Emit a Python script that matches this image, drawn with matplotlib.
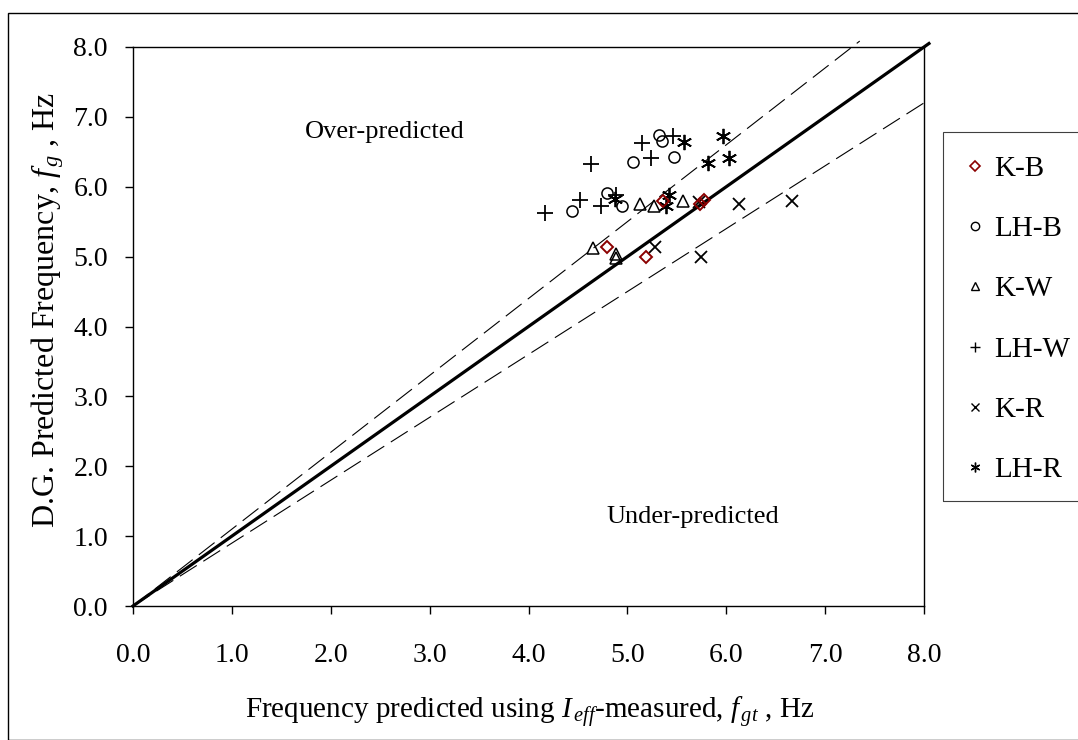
import numpy as np
import matplotlib
matplotlib.use("Agg")
import matplotlib.pyplot as plt
from matplotlib.patches import Rectangle
from matplotlib.lines import Line2D

plt.rcParams['font.family'] = ['Liberation Serif', 'DejaVu Serif']
plt.rcParams['mathtext.fontset'] = 'custom'
plt.rcParams['mathtext.rm'] = 'Liberation Serif'
plt.rcParams['mathtext.it'] = 'Liberation Serif:italic'

# データ
kb_x = [4.79, 5.19, 5.36, 5.73, 5.77]
kb_y = [5.14, 5.00, 5.80, 5.76, 5.81]

lhb_x = [5.32, 5.35, 5.06, 5.47, 4.79, 4.95, 4.44]
lhb_y = [6.74, 6.65, 6.35, 6.43, 5.91, 5.72, 5.65]

kw_x = [4.65, 4.89, 4.89, 5.13, 5.27, 5.56]
kw_y = [5.13, 5.04, 4.98, 5.76, 5.73, 5.79]

lhw_x = [5.15, 5.46, 4.63, 5.24, 4.52, 4.17, 4.73, 4.88]
lhw_y = [6.63, 6.72, 6.33, 6.41, 5.81, 5.63, 5.72, 5.88]

kr_x = [5.28, 5.74, 5.72, 6.13, 6.66]
kr_y = [5.14, 5.00, 5.78, 5.75, 5.80]

lhr_x = [5.57, 5.97, 6.03, 5.82, 5.42, 5.39, 4.87]
lhr_y = [6.64, 6.72, 6.41, 6.34, 5.88, 5.72, 5.83]

# 基準線 (1:1 と ±10%)
line_x = [0.0, 8.05]
upper_x = [0.0, 7.35]
lower_x = [0.0, 8.0]

fig = plt.figure(figsize=(10.78, 7.40), dpi=100)
W, H = 1078.0, 740.0

# 外枠
fig.patches.append(Rectangle((8 / W, 0), 1.1, 1 - 13 / H, transform=fig.transFigure,
                             fill=False, edgecolor='black', lw=1.0, clip_on=False))

ax = fig.add_axes([133 / W, 1 - 606 / H, (924 - 133) / W, (606 - 47) / H])

ax.plot(line_x, line_x, color='black', lw=2.3, clip_on=False, zorder=3)
ax.plot(upper_x, [1.1 * v for v in upper_x], color='black', lw=0.8,
        linestyle=(0, (18, 7)), clip_on=False)
ax.plot(lower_x, [0.9 * v for v in lower_x], color='black', lw=0.8,
        linestyle=(0, (18, 7)))

ms = 8
mew = 1.1
ax.plot(kb_x, kb_y, 'D', ms=ms - 1.5, mfc='none', mec='#8b0000', mew=mew + 0.3, zorder=5)
ax.plot(lhb_x, lhb_y, 'o', ms=ms, mfc='none', mec='black', mew=mew, zorder=4)
ax.plot(kw_x, kw_y, '^', ms=ms + 1, mfc='none', mec='black', mew=mew, zorder=4)
ax.plot(lhw_x, lhw_y, '+', ms=ms + 3, mec='black', mew=mew + 0.2, zorder=4)
ax.plot(kr_x, kr_y, 'x', ms=ms + 1, mec='black', mew=mew + 0.2, zorder=4)
ax.plot(lhr_x, lhr_y, marker=(6, 2, 0), ls='none', ms=ms + 3, mec='black', mew=mew + 0.2, zorder=4)

ax.set_xlim(0, 8)
ax.set_ylim(0, 8)
ticks = np.arange(0, 9, 1.0)
ax.set_xticks(ticks)
ax.set_yticks(ticks)
ax.set_xticklabels(['%.1f' % t for t in ticks])
ax.set_yticklabels(['%.1f' % t for t in ticks])
ax.tick_params(direction='out', length=6, width=1, labelsize=20)
ax.tick_params(axis='x', pad=21)
ax.tick_params(axis='y', pad=12)
for s in ax.spines.values():
    s.set_linewidth(1.0)

ax.text(2.55, 6.78, 'Over-predicted', fontsize=19, ha='center', va='center')
ax.text(5.66, 1.27, 'Under-predicted', fontsize=19, ha='center', va='center')

fig.text(530 / W, 1 - 712 / H,
         r'Frequency predicted using $I_{\,eff}$-measured, $f_{\,gt}$ , Hz',
         fontsize=21, ha='center', va='center')
fig.text(48 / W, 1 - 310 / H, r'D.G. Predicted Frequency, $f_{\,g}$ , Hz',
         fontsize=23, ha='center', va='center', rotation=90)

# 凡例
fig.patches.append(Rectangle((943 / W, 1 - 501 / H), 0.2, (501 - 132) / H,
                             transform=fig.transFigure, fill=False,
                             edgecolor='#404040', lw=0.8, clip_on=False))
handles = [
    Line2D([], [], ls='none', marker='D', ms=5, mfc='none', mec='#8b0000', mew=1.2),
    Line2D([], [], ls='none', marker='o', ms=6, mfc='none', mec='black', mew=1.0),
    Line2D([], [], ls='none', marker='^', ms=6, mfc='none', mec='black', mew=1.0),
    Line2D([], [], ls='none', marker='+', ms=7, mec='black', mew=1.0),
    Line2D([], [], ls='none', marker='x', ms=6, mec='black', mew=1.0),
    Line2D([], [], ls='none', marker=(6, 2, 0), ms=7, mec='black', mew=1.0),
]
labels = ['K-B', 'LH-B', 'K-W', 'LH-W', 'K-R', 'LH-R']
fig.legend(handles, labels, loc='upper left', bbox_to_anchor=(952 / W, 1 - 141 / H),
           frameon=False, fontsize=21, labelspacing=1.16, handlelength=0.6,
           handletextpad=0.35, borderpad=0)

fig.savefig('out.png', dpi=100)
